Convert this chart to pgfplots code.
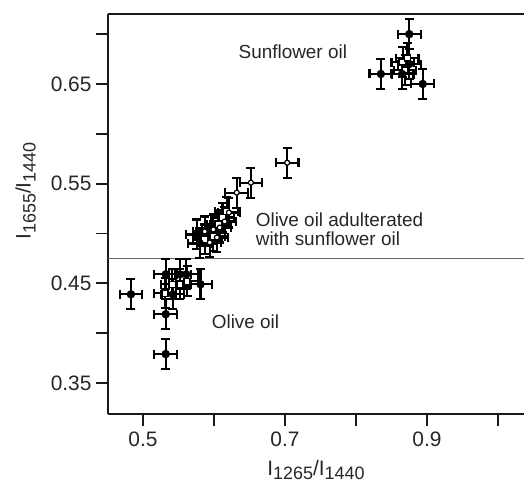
\documentclass[border=0pt]{standalone}
\usepackage{fontspec}
\setmainfont{Liberation Sans}
\usepackage{pgfplots}
\pgfplotsset{compat=1.18}
\usepackage{pgfplotstable}

\pgfplotstableread{
x y ex ey
0.875 0.700 0.016 0.015
0.835 0.660 0.016 0.015
0.865 0.660 0.016 0.015
0.875 0.670 0.016 0.015
0.894 0.650 0.016 0.015
0.483 0.439 0.016 0.015
0.532 0.459 0.016 0.015
0.552 0.459 0.016 0.015
0.561 0.459 0.016 0.015
0.581 0.449 0.016 0.015
0.542 0.439 0.016 0.015
0.532 0.419 0.016 0.015
0.532 0.379 0.016 0.015
0.576 0.499 0.016 0.015
0.580 0.490 0.016 0.015
}\filled

\pgfplotstableread{
x y ex ey
0.866 0.672 0.016 0.015
0.869 0.664 0.016 0.015
0.872 0.676 0.016 0.015
0.531 0.440 0.016 0.015
0.541 0.449 0.016 0.015
0.552 0.449 0.016 0.015
0.562 0.452 0.016 0.015
0.587 0.494 0.016 0.015
0.599 0.497 0.016 0.015
0.606 0.509 0.016 0.015
0.612 0.516 0.016 0.015
0.618 0.522 0.016 0.015
}\squares

\pgfplotstableread{
x y ex ey
0.587 0.502 0.016 0.015
0.599 0.504 0.016 0.015
0.608 0.506 0.016 0.015
0.594 0.491 0.016 0.015
0.604 0.496 0.016 0.015
0.615 0.512 0.016 0.015
0.621 0.521 0.016 0.015
0.632 0.541 0.016 0.015
0.652 0.551 0.016 0.015
0.703 0.571 0.016 0.015
}\circles

\begin{document}
\begin{tikzpicture}
\begin{axis}[
  scale only axis,
  width=416bp, height=400bp,
  xmin=0.4507, xmax=1.0366,
  ymin=0.3189, ymax=0.7202,
  axis lines=left,
  axis line style={-, line width=2bp, black!90},
  xtick={0.5,0.6,0.7,0.8,0.9,1.0},
  xticklabels={0.5,,0.7,,0.9,},
  ytick={0.35,0.40,0.45,0.50,0.55,0.60,0.65,0.70},
  yticklabels={0.35,,0.45,,0.55,,0.65,},
  tick align=outside,
  major tick length=12bp,
  tick style={line width=1.8bp, black!90},
  /pgf/number format/assume math mode=true,
  ticklabel style={font=\fontsize{21}{21}\selectfont, text=black!85},
  xticklabel style={yshift=-2bp},
  yticklabel style={xshift=-1bp},
  xlabel={I\raisebox{-4.5bp}{\fontsize{18}{18}\selectfont 1265}/I\raisebox{-4.5bp}{\fontsize{18}{18}\selectfont 1440}},
  ylabel={I\raisebox{-5bp}{\fontsize{18}{18}\selectfont 1655}/I\raisebox{-5bp}{\fontsize{18}{18}\selectfont 1440}},
  label style={font=\fontsize{21}{21}\selectfont, text=black!85},
  xlabel style={yshift=-7bp},
  ylabel style={at={(ticklabel cs:0.5575)}, yshift=8bp},
  clip=false,
  error bars/error bar style={line width=2.1bp, black},
  error bars/error mark options={rotate=90, mark size=4.5bp, line width=2.1bp, black},
]
\addplot[gray!80!black, line width=1.2bp] coordinates {(0.4507,0.475) (1.0366,0.475)};

\addplot[only marks, mark=square*, mark size=3bp, mark options={fill=white, draw=black, line width=1.2bp},
  error bars/.cd, x dir=both, x explicit, y dir=both, y explicit]
  table[x=x, y=y, x error=ex, y error=ey] {\squares};

\addplot[only marks, mark=*, mark size=2.5bp, mark options={fill=white, draw=black, line width=1.2bp},
  error bars/.cd, x dir=both, x explicit, y dir=both, y explicit]
  table[x=x, y=y, x error=ex, y error=ey] {\circles};

\addplot[only marks, mark=*, mark size=4bp, mark options={fill=black, draw=black},
  error bars/.cd, x dir=both, x explicit, y dir=both, y explicit]
  table[x=x, y=y, x error=ex, y error=ey] {\filled};

\draw[line width=2bp, black!90] (rel axis cs:0,1) -- (rel axis cs:1,1);

\node[font=\fontsize{19}{19}\selectfont, text=black!85] at (axis cs:0.711,0.682) {Sunflower oil};
\node[font=\fontsize{19}{19.5}\selectfont, text=black!85, anchor=west, align=left] at (axis cs:0.654,0.504) {Olive oil adulterated\\with sunflower oil};
\node[font=\fontsize{19}{19}\selectfont, text=black!85, anchor=west] at (axis cs:0.592,0.411) {Olive oil};
\end{axis}
\pgfresetboundingbox
\path ([shift={(-108bp,-70bp)}]current axis.south west) rectangle ([shift={(0bp,14bp)}]current axis.north east);
\end{tikzpicture}
\end{document}
